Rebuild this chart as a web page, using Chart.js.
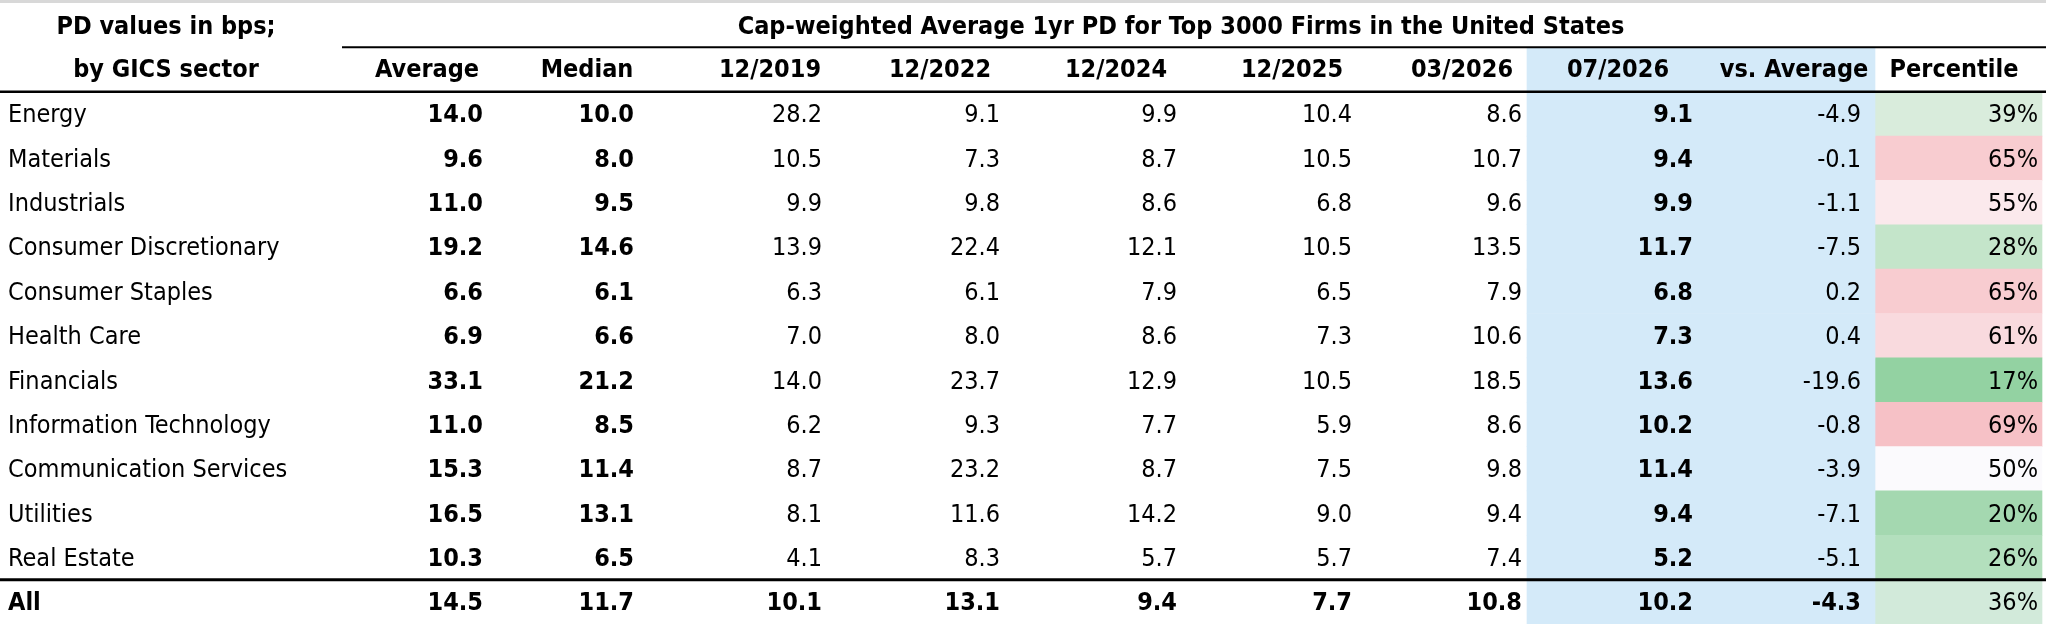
<!DOCTYPE html>
<html>
<head>
<meta charset="utf-8">
<script src="https://cdn.jsdelivr.net/npm/chart.js@4.4.1/dist/chart.umd.min.js"></script>
<style>
  html, body { margin: 0; padding: 0; background: #fff; }
  #wrap { width: 2046px; height: 624px; position: relative; }
</style>
</head>
<body>
<div id="wrap"><canvas id="pdTable"></canvas></div>
<script>
// ---------------- Data ----------------
const title = 'Cap-weighted Average 1yr PD for Top 3000 Firms in the United States';
const columnHeaders = ['Average', 'Median', '12/2019', '12/2022', '12/2024', '12/2025', '03/2026', '07/2026', 'vs. Average', 'Percentile'];
const sectors = ['Energy', 'Materials', 'Industrials', 'Consumer Discretionary', 'Consumer Staples', 'Health Care',
  'Financials', 'Information Technology', 'Communication Services', 'Utilities', 'Real Estate', 'All'];
const average = [14.0, 9.6, 11.0, 19.2, 6.6, 6.9, 33.1, 11.0, 15.3, 16.5, 10.3, 14.5];
const median = [10.0, 8.0, 9.5, 14.6, 6.1, 6.6, 21.2, 8.5, 11.4, 13.1, 6.5, 11.7];
const dec2019 = [28.2, 10.5, 9.9, 13.9, 6.3, 7.0, 14.0, 6.2, 8.7, 8.1, 4.1, 10.1];
const dec2022 = [9.1, 7.3, 9.8, 22.4, 6.1, 8.0, 23.7, 9.3, 23.2, 11.6, 8.3, 13.1];
const dec2024 = [9.9, 8.7, 8.6, 12.1, 7.9, 8.6, 12.9, 7.7, 8.7, 14.2, 5.7, 9.4];
const dec2025 = [10.4, 10.5, 6.8, 10.5, 6.5, 7.3, 10.5, 5.9, 7.5, 9.0, 5.7, 7.7];
const mar2026 = [8.6, 10.7, 9.6, 13.5, 7.9, 10.6, 18.5, 8.6, 9.8, 9.4, 7.4, 10.8];
const jul2026 = [9.1, 9.4, 9.9, 11.7, 6.8, 7.3, 13.6, 10.2, 11.4, 9.4, 5.2, 10.2];
const vsAverage = [-4.9, -0.1, -1.1, -7.5, 0.2, 0.4, -19.6, -0.8, -3.9, -7.1, -5.1, -4.3];
const percentile = [39, 65, 55, 28, 65, 61, 17, 69, 50, 20, 26, 36];
const percentileColors = ['#d9ecdc', '#f8ccd0', '#fbe9ec', '#c4e5ca', '#f8ccd0', '#f9dade',
  '#93d2a2', '#f6c1c6', '#fbfafd', '#a4d8b0', '#b3dfbd', '#d2eada'];

// ---------------- Layout (pixel units on the x scale) ----------------
const W = 2046;
const colRight = [483, 634, 822, 1000, 1177, 1352, 1522, 1693, 1861, 2038];
const colCenter = [427, 587, 770, 940, 1116, 1292, 1462, 1618, 1794, 1954];
const blueBand = [1527, 1875];
const pctBand = [1875, 2042];
const FONT = '"Liberation Sans Narrow", "DejaVu Sans Condensed", Arial, sans-serif';
const SIZE = 25;

const rowKeys = ['h1', 'h2', ...sectors];
const nullPad = [null, null];

const tablePlugin = {
  id: 'tableText',
  afterDatasetsDraw(chart) {
    const { ctx, scales: { x, y } } = chart;
    const rowY = i => y.getPixelForValue(i);
    const rowH = y.getPixelForValue(1) - y.getPixelForValue(0);
    ctx.save();
    ctx.textBaseline = 'middle';

    // top border
    ctx.fillStyle = '#d8d8d8';
    ctx.fillRect(0, 0, W, 3);
    ctx.fillStyle = '#000';

    // headers
    ctx.font = `bold ${SIZE}px ${FONT}`;
    ctx.textAlign = 'center';
    ctx.fillText('PD values in bps;', x.getPixelForValue(166), rowY(0) + 2);
    ctx.fillText('by GICS sector', x.getPixelForValue(166), rowY(1) + 1);
    ctx.fillText(title, x.getPixelForValue(1181), rowY(0) + 2);
    columnHeaders.forEach((h, c) => ctx.fillText(h, x.getPixelForValue(colCenter[c]), rowY(1) + 1));

    // body
    const cols = [average, median, dec2019, dec2022, dec2024, dec2025, mar2026, jul2026, vsAverage, percentile];
    const boldCols = [0, 1, 7];
    sectors.forEach((s, r) => {
      const yy = rowY(r + 2) + 2;
      const isAll = s === 'All';
      ctx.textAlign = 'left';
      ctx.font = `${isAll ? 'bold ' : ''}${SIZE}px ${FONT}`;
      ctx.fillText(s, x.getPixelForValue(8), yy);
      ctx.textAlign = 'right';
      cols.forEach((arr, c) => {
        const bold = isAll ? c !== 9 : boldCols.includes(c);
        ctx.font = `${bold ? 'bold ' : ''}${SIZE}px ${FONT}`;
        const txt = c === 9 ? arr[r] + '%' : arr[r].toFixed(1);
        ctx.fillText(txt, x.getPixelForValue(colRight[c]), yy);
      });
    });

    // rules
    ctx.strokeStyle = '#000';
    const rule = (x0, x1, yy, w) => {
      ctx.lineWidth = w;
      ctx.beginPath();
      ctx.moveTo(x.getPixelForValue(x0), yy);
      ctx.lineTo(x.getPixelForValue(x1), yy);
      ctx.stroke();
    };
    rule(342, W, rowY(0) + rowH / 2, 2);
    rule(0, W, rowY(1) + rowH / 2, 2.5);
    rule(0, W, rowY(sectors.length) + rowH / 2, 3);
    ctx.restore();
  }
};

new Chart(document.getElementById('pdTable'), {
  type: 'bar',
  data: {
    labels: rowKeys,
    datasets: [
      {
        label: '07/2026 band',
        data: [null, blueBand, ...sectors.map(() => blueBand)],
        backgroundColor: '#d4eaf9',
        barPercentage: 1, categoryPercentage: 1, grouped: false
      },
      {
        label: 'Percentile',
        data: [...nullPad, ...sectors.map(() => pctBand)],
        backgroundColor: [...nullPad.map(() => '#fff'), ...percentileColors],
        barPercentage: 1, categoryPercentage: 1, grouped: false
      }
    ]
  },
  options: {
    indexAxis: 'y',
    responsive: true,
    maintainAspectRatio: false,
    animation: false,
    layout: { padding: { top: 3, bottom: 0, left: 0, right: 0 } },
    plugins: { legend: { display: false }, tooltip: { enabled: false } },
    scales: {
      x: { type: 'linear', min: 0, max: W, display: false },
      y: { type: 'category', display: false, offset: true }
    }
  },
  plugins: [tablePlugin]
});
</script>
</body>
</html>
